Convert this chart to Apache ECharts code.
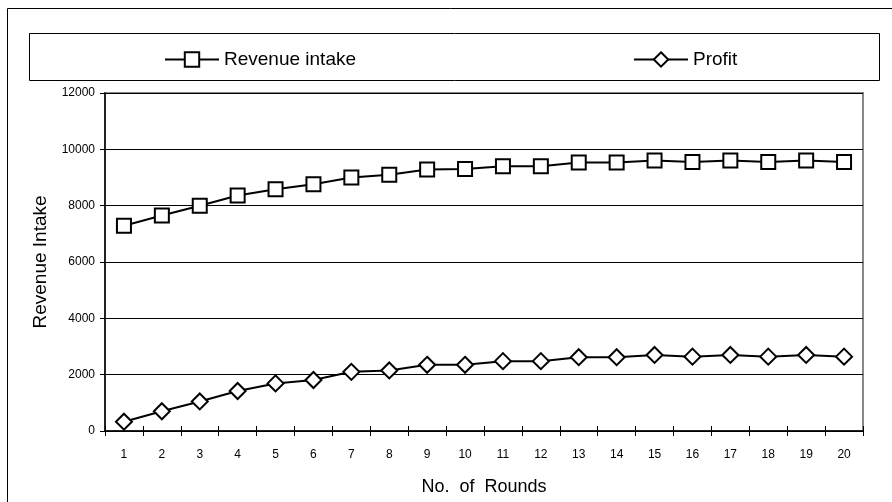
<!DOCTYPE html>
<html>
<head>
<meta charset="utf-8">
<script src="https://cdn.jsdelivr.net/npm/echarts@6/dist/echarts.min.js"></script>
<style>html,body{margin:0;padding:0;background:#fff}#c{width:892px;height:502px}</style>
</head>
<body>
<div id="c"></div>
<script>
var rounds = ['1','2','3','4','5','6','7','8','9','10','11','12','13','14','15','16','17','18','19','20'];
var revenue = [7290, 7650, 8000, 8360, 8580, 8760, 9000, 9100, 9280, 9300, 9400, 9400, 9530, 9530, 9600, 9550, 9600, 9550, 9600, 9550];
var profit = [330, 700, 1050, 1420, 1690, 1810, 2100, 2150, 2350, 2350, 2480, 2480, 2620, 2620, 2700, 2640, 2700, 2640, 2700, 2640];
var yTicks = {min: 0, max: 12000, interval: 2000};

var chart = echarts.init(document.getElementById('c'), null, {renderer: 'canvas'});
var font = 'Liberation Sans, Arial, sans-serif';
var seriesStyle = function (name, data, sym, size) {
  return {
    name: name, type: 'line', data: data, symbol: sym, symbolSize: size,
    showAllSymbol: true,
    lineStyle: {color: '#000', width: 2},
    itemStyle: {color: '#fff', borderColor: '#000', borderWidth: 2},
    emphasis: {disabled: true}
  };
};
chart.setOption({
  animation: false,
  backgroundColor: '#fff',
  textStyle: {fontFamily: font},
  graphic: [
    {type: 'rect', shape: {x: 7.5, y: 8.5, width: 900, height: 510}, style: {fill: 'none', stroke: '#000', lineWidth: 1}, z: -10},
    {type: 'rect', shape: {x: 29.5, y: 33.5, width: 850, height: 47}, style: {fill: 'none', stroke: '#000', lineWidth: 1}, z: -10}
  ],
  legend: [
    {data: ['Revenue intake'], left: 159, top: 45, itemWidth: 54, itemHeight: 18, itemGap: 6,
     textStyle: {fontSize: 19, color: '#000', fontFamily: font}},
    {data: ['Profit'], left: 628, top: 45, itemWidth: 54, itemHeight: 18, itemGap: 6,
     textStyle: {fontSize: 19, color: '#000', fontFamily: font}}
  ],
  grid: {left: 105, top: 93, right: 29, bottom: 71, show: true, borderColor: '#888', borderWidth: 2,
         backgroundColor: 'transparent', outerBoundsMode: 'none', containLabel: false},
  xAxis: [
    {type: 'category', data: rounds, boundaryGap: true,
     name: 'No.  of  Rounds', nameLocation: 'middle', nameGap: 47,
     nameTextStyle: {fontSize: 18, color: '#000'},
     axisLine: {lineStyle: {color: '#000', width: 1.5}},
     axisTick: {show: true, length: 5, lineStyle: {color: '#000'}},
     axisLabel: {fontSize: 12, color: '#000', margin: 18},
     splitLine: {show: false}},
    {type: 'category', data: rounds, boundaryGap: true, position: 'bottom',
     axisLine: {show: false},
     axisTick: {show: true, inside: true, length: 5, lineStyle: {color: '#000'}},
     axisLabel: {show: false}, splitLine: {show: false}}
  ],
  yAxis: [
    {type: 'value', min: yTicks.min, max: yTicks.max, interval: yTicks.interval,
     name: 'Revenue Intake', nameLocation: 'middle', nameGap: 55,
     nameTextStyle: {fontSize: 19, color: '#000'},
     axisLine: {show: true, lineStyle: {color: '#000', width: 1.5}},
     axisTick: {show: true, length: 5, lineStyle: {color: '#000'}},
     axisLabel: {fontSize: 12, color: '#000', margin: 10, formatter: function (v) { return String(v); }},
     splitLine: {show: true, lineStyle: {color: '#000', width: 1}}},
    {type: 'value', min: yTicks.min, max: yTicks.max, interval: yTicks.interval, position: 'left',
     axisLine: {show: false},
     axisTick: {show: true, inside: true, length: 5, lineStyle: {color: '#000'}},
     axisLabel: {show: false}, splitLine: {show: false}}
  ],
  series: [
    seriesStyle('Revenue intake', revenue, 'rect', 14),
    seriesStyle('Profit', profit, 'diamond', 16)
  ]
});
</script>
</body>
</html>
